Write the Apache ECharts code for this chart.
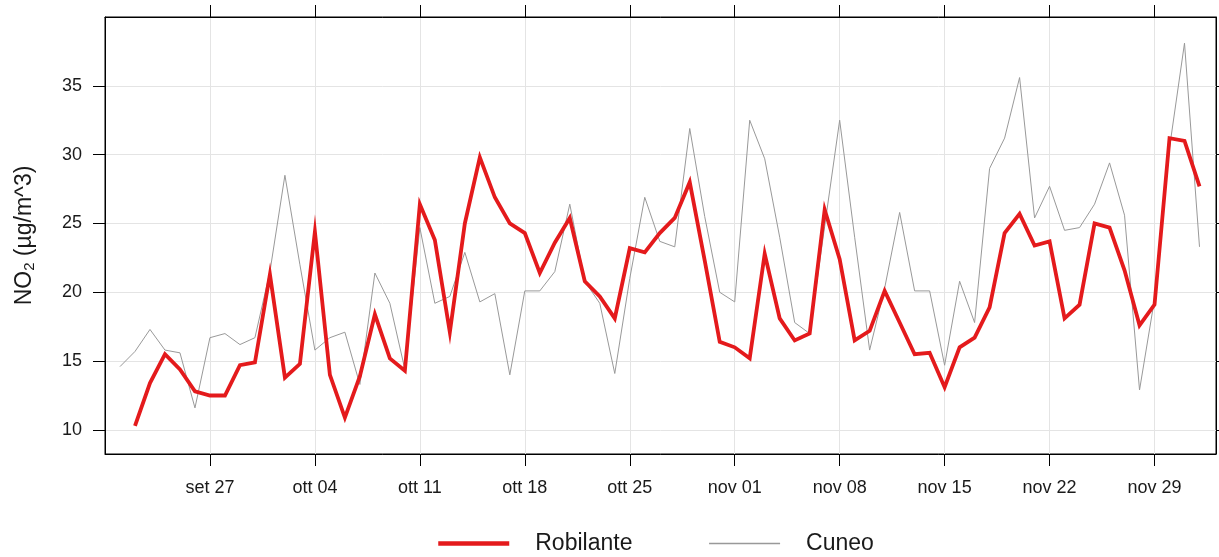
<!DOCTYPE html>
<html>
<head>
<meta charset="utf-8">
<title>NO2 Robilante vs Cuneo</title>
<script src="https://cdn.jsdelivr.net/npm/echarts@6/dist/echarts.min.js"></script>
<style>
  html, body { margin: 0; padding: 0; background: #fff; }
  #chart { width: 1219px; height: 557px; }
</style>
</head>
<body>
<div id="chart"></div>
<script>
// Daily NO2 means (µg/m^3). Day numbers count from 27 September (day 0).
const cuneoStartDay = -6;      // 21 Sep
const robilanteStartDay = -5;  // 22 Sep

const cuneoValues = [
  14.6, 15.7, 17.3, 15.8, 15.6, 11.6, 16.7, 17.0, 16.2, 16.7,           // 21-30 Sep
  21.5, 28.5, 22.0, 15.8, 16.7, 17.1, 13.3, 21.4, 19.2, 14.4,           // 1-10 Oct
  24.7, 19.2, 19.7, 22.9, 19.3, 19.9, 14.0, 20.1, 20.1, 21.5,           // 11-20 Oct
  26.4, 20.8, 19.2, 14.1, 21.0, 26.9, 23.7, 23.3, 31.9, 25.5, 20.0,     // 21-31 Oct
  19.3, 32.5, 29.7, 24.0, 17.8, 17.0, 24.8, 32.5, 24.0, 15.8,           // 1-10 Nov
  20.3, 25.8, 20.1, 20.1, 14.7, 20.8, 17.8, 29.0, 31.2, 35.6,           // 11-20 Nov
  25.4, 27.7, 24.5, 24.7, 26.4, 29.4, 25.6, 12.9, 19.5, 30.5,           // 21-30 Nov
  38.1, 23.3                                                            // 1-2 Dec
];

const robilanteValues = [
  10.3, 13.4, 15.5, 14.4, 12.8, 12.5, 12.5, 14.7, 14.9,                 // 22-30 Sep
  21.3, 13.8, 14.8, 24.4, 14.0, 10.9, 13.9, 18.4, 15.2, 14.3,           // 1-10 Oct
  26.4, 23.8, 17.1, 25.0, 29.8, 26.9, 25.0, 24.3, 21.4, 23.6,           // 11-20 Oct
  25.4, 20.8, 19.7, 18.1, 23.2, 22.9, 24.3, 25.4, 28.0, 22.3, 16.4,     // 21-31 Oct
  16.0, 15.2, 22.8, 18.1, 16.5, 17.0, 26.0, 22.4, 16.5, 17.2,           // 1-10 Nov
  20.1, 17.8, 15.5, 15.6, 13.1, 16.0, 16.7, 18.9, 24.3, 25.7,           // 11-20 Nov
  23.4, 23.7, 18.1, 19.1, 25.0, 24.7, 21.6, 17.6, 19.1, 31.2,           // 21-30 Nov
  31.0, 27.7                                                            // 1-2 Dec
];

// Weekly date ticks and the NO2 ticks
const xTickLabels = ['set 27', 'ott 04', 'ott 11', 'ott 18', 'ott 25',
                     'nov 01', 'nov 08', 'nov 15', 'nov 22', 'nov 29'];
const yTickValues = [10, 15, 20, 25, 30, 35];

const xTickDays = xTickLabels.map((_, i) => i * 7);

function toPairs(startDay, values) {
  return values.map((v, i) => [startDay + i, v]);
}

const textColor = '#1a1a1a';
const fontFamily = 'Liberation Sans, Arial, sans-serif';
const robilanteColor = '#e41a1c';
const cuneoColor = '#999999';
const xMin = -7, xMax = 67.1;
const yMin = 8.25, yMax = 40.0;

const chart = echarts.init(document.getElementById('chart'), null, { renderer: 'canvas' });

const frameAxisLine = { show: true, onZero: false, lineStyle: { color: '#000', width: 1 } };
const outerTick = values => ({ show: true, inside: false, length: 12, customValues: values,
                               lineStyle: { color: '#000', width: 1 } });

chart.setOption({
  animation: false,
  backgroundColor: '#fff',
  grid: { left: 105, right: 3, top: 17, bottom: 103, containLabel: false,
          outerBoundsMode: 'none',
          show: true, borderColor: '#000', borderWidth: 1 },
  legend: {
    left: 436, top: 532, padding: 0,
    itemWidth: 71, itemHeight: 14, itemGap: 76,
    itemStyle: { opacity: 0 },
    textStyle: { fontFamily: fontFamily, fontSize: 23, color: textColor,
                 padding: [5, 0, 0, 21] },
    data: [
      { name: 'Robilante', lineStyle: { color: robilanteColor, width: 4.5 } },
      { name: 'Cuneo', lineStyle: { color: cuneoColor, width: 1.3 } }
    ]
  },
  xAxis: [
    {
      type: 'value', position: 'bottom', min: xMin, max: xMax,
      axisLine: frameAxisLine,
      axisTick: outerTick(xTickDays),
      axisLabel: {
        customValues: xTickDays, margin: 25,
        fontFamily: fontFamily, fontSize: 18, color: textColor,
        formatter: v => xTickLabels[Math.round(v / 7)] || ''
      },
      splitLine: { show: true, lineStyle: { color: '#e4e4e4', width: 1 } }
    },
    {
      type: 'value', position: 'top', min: xMin, max: xMax,
      axisLine: frameAxisLine,
      axisTick: outerTick(xTickDays),
      axisLabel: { show: false },
      splitLine: { show: false }
    }
  ],
  yAxis: [
    {
      type: 'value', position: 'left', min: yMin, max: yMax,
      name: 'NO{sub|2} (µg/m^3)',
      nameLocation: 'middle', nameGap: 68, nameRotate: 90,
      nameTextStyle: {
        fontFamily: fontFamily, fontSize: 23, color: textColor,
        rich: { sub: { fontSize: 15, verticalAlign: 'bottom', padding: [10, 0, 0, 0],
                       fontFamily: fontFamily, color: textColor } }
      },
      axisLine: frameAxisLine,
      axisTick: outerTick(yTickValues),
      axisLabel: {
        customValues: yTickValues, margin: 23,
        fontFamily: fontFamily, fontSize: 18, color: textColor
      },
      splitLine: { show: true, lineStyle: { color: '#e4e4e4', width: 1 } }
    },
    {
      type: 'value', position: 'right', min: yMin, max: yMax,
      axisLine: frameAxisLine,
      axisTick: outerTick(yTickValues),
      axisLabel: { show: false },
      splitLine: { show: false }
    }
  ],
  series: [
    {
      name: 'Cuneo', type: 'line', xAxisIndex: 0, yAxisIndex: 0,
      data: toPairs(cuneoStartDay, cuneoValues),
      symbol: 'none', z: 2,
      lineStyle: { color: cuneoColor, width: 1 },
      itemStyle: { color: cuneoColor }
    },
    {
      name: 'Robilante', type: 'line', xAxisIndex: 0, yAxisIndex: 0,
      data: toPairs(robilanteStartDay, robilanteValues),
      symbol: 'none', z: 3,
      lineStyle: { color: robilanteColor, width: 3.8, join: 'miter' },
      itemStyle: { color: robilanteColor }
    }
  ]
});
</script>
</body>
</html>
